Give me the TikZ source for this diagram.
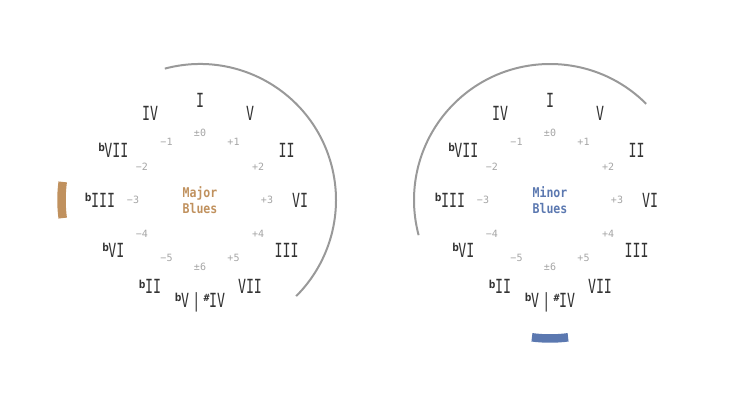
\documentclass[tikz,border=0pt]{standalone}
\usepackage{fontspec}
\usetikzlibrary{positioning}
\newfontfamily\degreefont{DejaVu Sans Mono}[FakeStretch=0.68]
\newfontfamily\stepfont{DejaVu Sans Mono}
\newfontfamily\titlefont{DejaVu Sans Mono}[FakeStretch=0.86]
\definecolor{majorbrown}{HTML}{C0915E}
\definecolor{minorblue}{HTML}{5B78B0}
\definecolor{ringgray}{HTML}{999999}
\definecolor{stepgray}{HTML}{A5A5A5}
\definecolor{inkgray}{HTML}{333333}
\newcommand\flatmark{\raisebox{5.4pt}{\fontsize{11}{11}\stepfont\bfseries b}\kern-.5pt}
\newcommand\sharpmark{\raisebox{5.4pt}{\fontsize{10}{10}\stepfont\bfseries\#}\kern-.5pt}
\tikzset{
  degree/.style={inner sep=0pt,text height=14pt,text depth=0pt,text=inkgray,
    font=\fontsize{19.5}{20}\degreefont},
  semitone/.style={inner sep=0pt,text height=7pt,text depth=0pt,text=stepgray,
    font=\fontsize{10}{10}\stepfont},
  title/.style={align=center,font=\fontsize{13.4}{16.5}\titlefont\bfseries},
  ring/.style={draw=ringgray,line width=2pt},
  bluesarc/.style={line width=8.5pt}
}

\begin{document}
\begin{tikzpicture}[x=1pt,y=1pt]
      \useasboundingbox (0,0) rectangle (750,400);
      \coordinate (maj) at (200,200);
      \coordinate (min) at (550,200);

      % the twelve degrees round each wheel
      \foreach \w in {maj,min}{
        \foreach \d/\s [count=\k from 0] in {I/{\textpm0},V/+1,II/+2,VI/+3,III/+4,VII/+5,
            {\flatmark V\,|\,\sharpmark IV}/{\textpm6},{\flatmark II}/−5,{\flatmark VI}/−4,
            {\flatmark III}/−3,{\flatmark VII}/−2,IV/−1}{
          \node [degree] (\w-deg\k) at ([shift={({90-30*\k}:100)}]\w) {\d};
          \node [semitone] (\w-st\k) at ([shift={({90-30*\k}:67)}]\w) {\s};
        }
      }

      \node [title,text=majorbrown] (majtitle) at (maj) {Major\\Blues};
      \node [title,text=minorblue] (mintitle) at (min) {Minor\\Blues};

      \draw [ring] ([shift={(105:136)}]maj) arc [start angle=105,end angle=-45,radius=136];
      \draw [ring] ([shift={(45:136)}]min) arc [start angle=45,end angle=195,radius=136];

      \draw [bluesarc,majorbrown] ([shift={(172.5:138.5)}]maj) arc [start angle=172.5,end angle=187.5,radius=138.5];
      \draw [bluesarc,minorblue] ([shift={(262.5:138.5)}]min) arc [start angle=262.5,end angle=277.5,radius=138.5];
\end{tikzpicture}
\end{document}
